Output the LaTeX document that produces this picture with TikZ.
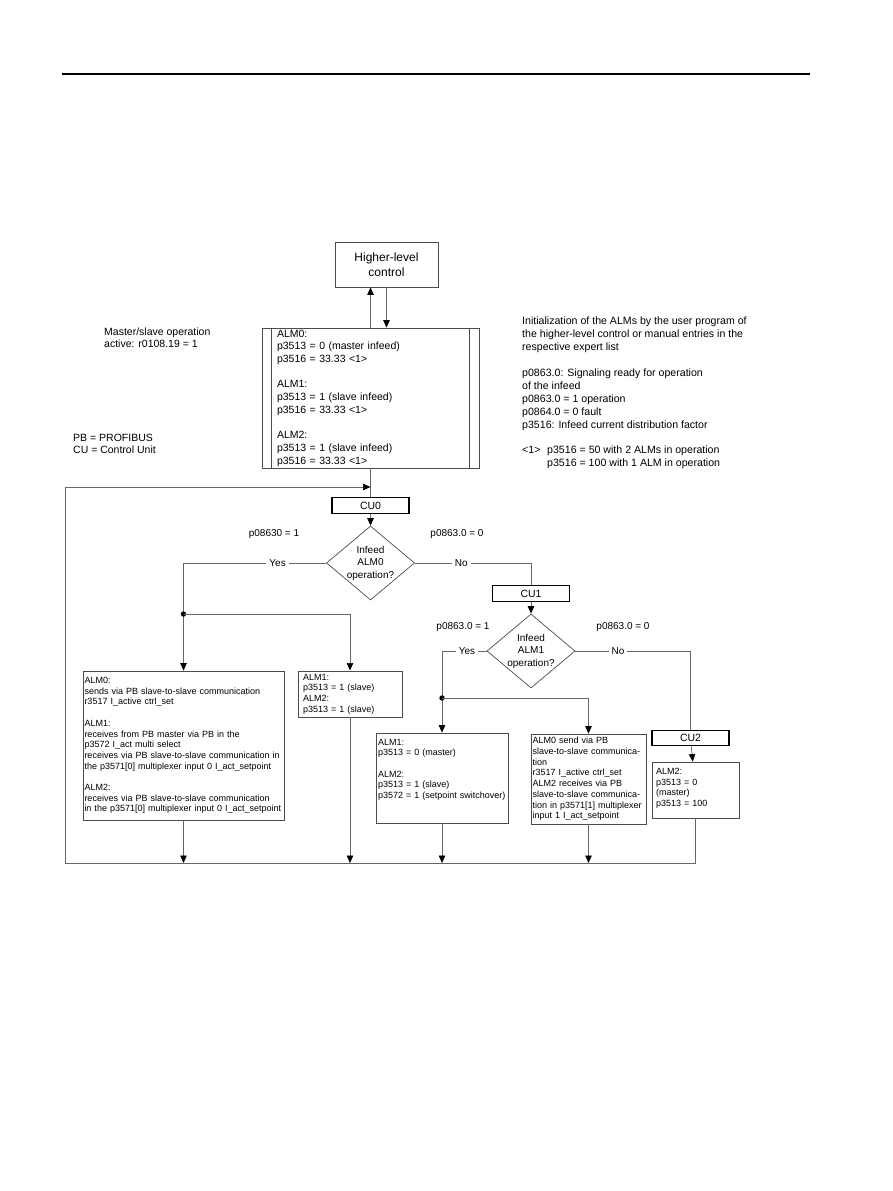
\documentclass[tikz,border=0pt]{standalone}
\usepackage{fontspec}
\setmainfont{Liberation Sans}
\usetikzlibrary{arrows.meta,shapes.geometric}

\begin{document}
\begin{tikzpicture}[x=1pt, y=-1pt,
  >={Triangle[length=7.5pt,width=6.5pt,color=black]},
  line/.style={draw=black!60, line width=0.7pt},
  block/.style={draw=black!70, line width=0.8pt, inner sep=0pt},
  cubox/.style={draw=black, line width=1.3pt, minimum width=77pt, minimum height=15.5pt, inner sep=0pt, font=\fontsize{10.5}{12}\selectfont},
  decision/.style={diamond, draw=black!70, line width=0.7pt, aspect=1.19, inner sep=0pt, minimum width=86pt, minimum height=72pt, align=center, font=\fontsize{10}{12.5}\selectfont},
  info/.style={align=left, inner sep=0pt, anchor=north west},
  param/.style={block, align=left, inner xsep=1.5pt, inner ysep=3pt, font=\fontsize{9}{10.7}\selectfont},
  cond/.style={font=\fontsize{10}{12}\selectfont, inner sep=0pt},
  answer/.style={fill=white, inner xsep=3pt, inner ysep=1pt, font=\fontsize{10}{12}\selectfont}]

  \useasboundingbox (0,0) rectangle (893,1191);
  \draw[line width=1.3pt] (62,74) -- (810,74);

  % control and initialization
  \node[block, minimum width=103pt, minimum height=45pt, align=center, font=\fontsize{12}{15}\selectfont] (hlc) at (386.5,264.5) {Higher-level\\control};
  \node[block, minimum width=217pt, minimum height=140pt, text width=187pt, inner xsep=15pt, align=left, font=\fontsize{10.5}{12.7}\selectfont] (alm) at (370.5,398)
    {ALM0:\\ p3513 = 0 (master infeed)\\ p3516 = 33.33 <1>\\[12.7pt]
     ALM1:\\ p3513 = 1 (slave infeed)\\ p3516 = 33.33 <1>\\[12.7pt]
     ALM2:\\ p3513 = 1 (slave infeed)\\ p3516 = 33.33 <1>};
  \draw[black!70, line width=0.8pt] ([xshift=10pt]alm.north west) -- ([xshift=10pt]alm.south west)
    ([xshift=-10pt]alm.north east) -- ([xshift=-10pt]alm.south east);

  \node[info, font=\fontsize{10.5}{11.5}\selectfont] (mso) at (104,328) {Master/slave operation\\active: r0108.19 = 1};
  \node[info, font=\fontsize{10.5}{12}\selectfont] (abbr) at (73,434) {PB = PROFIBUS\\CU = Control Unit};
  \node[info, font=\fontsize{10.6}{12.9}\selectfont] (init) at (522,317)
    {Initialization of the ALMs by the user program of\\
     the higher-level control or manual entries in the\\
     respective expert list\\[12.9pt]
     p0863.0: Signaling ready for operation\\
     of the infeed\\
     p0863.0 = 1 operation\\
     p0864.0 = 0 fault\\
     p3516: Infeed current distribution factor\\[12.9pt]
     \makebox[25pt][l]{<1>}p3516 = 50 with 2 ALMs in operation\\
     \hspace*{25pt}p3516 = 100 with 1 ALM in operation};

  % decisions
  \node[cubox] (cu0) at (370.5,505.5) {CU0};
  \node[decision] (d0) at (370.5,563) {Infeed\\ALM0\\operation?};
  \node[cubox] (cu1) at (531,593.5) {CU1};
  \node[decision] (d1) at (531,651) {Infeed\\ALM1\\operation?};
  \node[cubox] (cu2) at (690.5,738) {CU2};

  \node[cond] (c0y) at (274,534) {p08630 = 1};
  \node[cond] (c0n) at (457,534) {p0863.0 = 0};
  \node[cond] (c1y) at (463,627) {p0863.0 = 1};
  \node[cond] (c1n) at (623,627) {p0863.0 = 0};

  % parameter boxes
  \node[param, minimum width=201pt, minimum height=149pt, text width=198pt] (b0) at (183.5,745.5)
    {ALM0:\\
     sends via PB slave-to-slave communication\\
     r3517 I\_active ctrl\_set\\[10.7pt]
     ALM1:\\
     receives from PB master via PB in the\\
     p3572 I\_act multi select\\
     receives via PB slave-to-slave communication in\\
     the p3571[0] multiplexer input 0 I\_act\_setpoint\\[10.7pt]
     ALM2:\\
     receives via PB slave-to-slave communication\\
     in the p3571[0] multiplexer input 0 I\_act\_setpoint};
  \node[param, minimum width=104pt, minimum height=46pt, text width=94pt, inner xsep=5pt] (b1) at (350,694)
    {ALM1:\\ p3513 = 1 (slave)\\ ALM2:\\ p3513 = 1 (slave)};
  \node[param, minimum width=132pt, text width=128pt, inner xsep=2pt, text height=9pt, text depth=75pt] (b2) at (442,778)
    {ALM1:\\ p3513 = 0 (master)\\[10.7pt] ALM2:\\ p3513 = 1 (slave)\\ p3572 = 1 (setpoint switchover)};
  \node[param, minimum width=115pt, minimum height=90pt, text width=112pt] (b3) at (588.5,779)
    {ALM0 send via PB\\
     slave-to-slave communica-\\
     tion\\
     r3517 I\_active ctrl\_set\\
     ALM2 receives via PB\\
     slave-to-slave communica-\\
     tion in p3571[1] multiplexer\\
     input 1 I\_act\_setpoint};
  \node[param, minimum width=87pt, text width=79pt, inner xsep=4pt, text height=9.5pt, text depth=40.5pt] (b4) at (695.5,790)
    {ALM2:\\ p3513 = 0\\ (master)\\ p3513 = 100};

  \coordinate (dot0) at (183.5,614);
  \coordinate (dot1) at (442,698);
  \coordinate (busL) at (65,863);
  \coordinate (back) at (65,487);
  \coordinate (merge) at (370.5,487);

  % connectors
  \draw[line,->] (alm.north) -- (alm.north |- hlc.south);
  \draw[line,->] (hlc.south) -- (hlc.south |- alm.north);
  \draw[line] (alm.south) -- (cu0.north);
  \draw[line,->] (cu0) -- (d0);
  \draw[line,->] (d0.west) -| node[answer, pos=0.17] {Yes} (b0.north);
  \fill (dot0) circle (2.7pt);
  \draw[line,->] (dot0) -| (b1.north);
  \draw[line] (d0.east) -| node[answer, pos=0.2] {No} (cu1.north);
  \draw[line,->] (cu1) -- (d1);
  \draw[line,->] (d1.west) -| node[answer, pos=0.22] {Yes} (b2.north);
  \fill (dot1) circle (2.7pt);
  \draw[line,->] (dot1) -| (b3.north);
  \draw[line] (d1.east) -| node[answer, pos=0.185] {No} (cu2.north);
  \draw[line,->] (cu2) -- (b4);

  % return to CU0
  \draw[line,->] (b0) -- (b0 |- busL);
  \draw[line,->] (b1) -- (b1 |- busL);
  \draw[line,->] (b2) -- (b2 |- busL);
  \draw[line,->] (b3) -- (b3 |- busL);
  \draw[line,->] (b4) -- (b4 |- busL) -- (busL) -- (back) -- (merge);
\end{tikzpicture}
\end{document}
